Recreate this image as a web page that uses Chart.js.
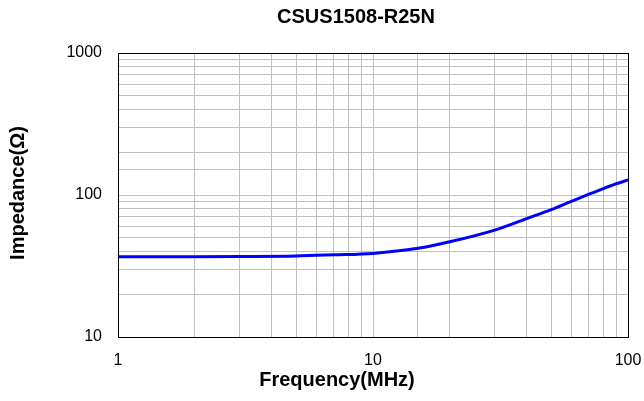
<!DOCTYPE html>
<html>
<head>
<meta charset="utf-8">
<script src="https://cdn.jsdelivr.net/npm/chart.js@4.4.0/dist/chart.umd.min.js"></script>
<style>
  html, body { margin: 0; padding: 0; background: #fff; }
  #wrap { width: 644px; height: 401px; }
</style>
</head>
<body>
<div id="wrap"><canvas id="c" width="644" height="401"></canvas></div>
<script>
const freqMHz = [1, 2, 3, 5, 7, 10, 15, 20, 30, 40, 50, 60, 70, 80, 90, 100];
const impedance = [36.8, 36.8, 36.9, 37.2, 37.9, 38.8, 42.1, 46.8, 56.6, 68.2, 78.8, 90.3, 101, 111, 120, 127.5];
const xTickLabels = [1, 10, 100];
const yTickLabels = [10, 100, 1000];
const chartTitle = 'CSUS1508-R25N';
const xTitle = 'Frequency(MHz)';
const yTitle = 'Impedance(Ω)';

const font = 'Arial, "Liberation Sans", sans-serif';

// frame round the plot area plus the three titles at the spots the original uses
const frameAndTitles = {
    id: 'frameAndTitles',
    afterDatasetsDraw(chart) {
        const { ctx, chartArea: a } = chart;
        ctx.save();
        ctx.strokeStyle = '#000';
        ctx.lineWidth = 1;
        ctx.strokeRect(Math.round(a.left) + 0.5, Math.round(a.top) + 0.5,
            Math.round(a.right - a.left), Math.round(a.bottom - a.top));
        ctx.restore();
    },
    afterDraw(chart) {
        const ctx = chart.ctx;
        ctx.save();
        ctx.fillStyle = '#000';
        ctx.font = 'bold 20px ' + font;
        ctx.textAlign = 'center';
        ctx.textBaseline = 'middle';
        ctx.fillText(chartTitle, 356, 17);
        ctx.fillText(xTitle, 337, 380);
        ctx.translate(18, 193);
        ctx.rotate(-Math.PI / 2);
        ctx.fillText(yTitle, 0, 0);
        ctx.restore();
    }
};

new Chart(document.getElementById('c').getContext('2d'), {
    type: 'line',
    data: {
        datasets: [{
            data: freqMHz.map((f, i) => ({ x: f, y: impedance[i] })),
            borderColor: '#0000FF',
            borderWidth: 3,
            pointRadius: 0,
            cubicInterpolationMode: 'monotone',
            fill: false
        }]
    },
    options: {
        responsive: false,
        animation: false,
        layout: { padding: { left: 0, right: 16, top: 53, bottom: 0 } },
        plugins: {
            legend: { display: false },
            tooltip: { enabled: false },
            title: { display: false }
        },
        scales: {
            x: {
                type: 'logarithmic',
                min: 1,
                max: 100,
                afterFit: s => { s.height = 64; s.paddingLeft = 0; s.paddingRight = 0; },
                grid: { color: '#c0c0c0', lineWidth: 1, drawTicks: false },
                border: { display: false },
                ticks: {
                    color: '#000',
                    font: { family: font, size: 16 },
                    padding: 14,
                    autoSkip: false,
                    maxRotation: 0,
                    callback: v => xTickLabels.includes(v) ? String(v) : ''
                }
            },
            y: {
                type: 'logarithmic',
                min: 10,
                max: 1000,
                afterFit: s => { s.width = 118; s.paddingTop = 0; s.paddingBottom = 0; },
                grid: { color: '#c0c0c0', lineWidth: 1, drawTicks: false },
                border: { display: false },
                ticks: {
                    color: '#000',
                    font: { family: font, size: 16 },
                    padding: 16,
                    autoSkip: false,
                    callback: v => yTickLabels.includes(v) ? String(v) : ''
                }
            }
        }
    },
    plugins: [frameAndTitles]
});
</script>
</body>
</html>
